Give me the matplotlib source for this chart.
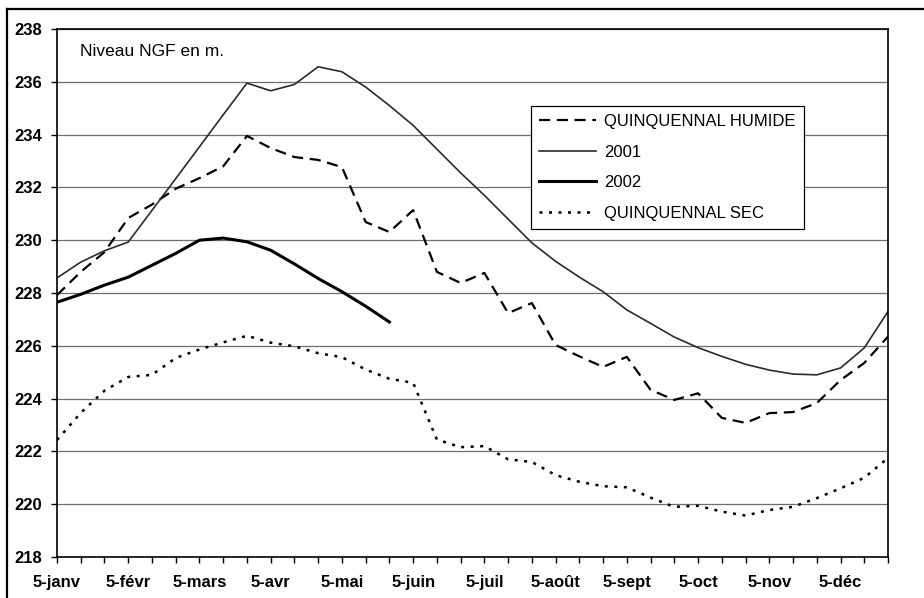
import matplotlib
matplotlib.use('Agg')
import matplotlib.pyplot as plt
from matplotlib.lines import Line2D
import numpy as np

# Dekads: 5, 15, 25 of every month (36 points)
month_labels = ['5-janv', '5-févr', '5-mars', '5-avr', '5-mai', '5-juin',
                '5-juil', '5-août', '5-sept', '5-oct', '5-nov', '5-déc']

humide = [227.92, 228.8, 229.55, 230.84, 231.35, 231.95, 232.35, 232.8, 233.95,
          233.49, 233.15, 233.04, 232.77, 230.69, 230.31, 231.14, 228.8, 228.38,
          228.76, 227.24, 227.62, 226.03, 225.6, 225.2, 225.58, 224.33, 223.95,
          224.2, 223.27, 223.08, 223.45, 223.49, 223.83, 224.7, 225.35, 226.35]

s2001 = [228.57, 229.17, 229.6, 229.93, 231.13, 232.33, 233.54, 234.75, 235.95,
         235.66, 235.9, 236.57, 236.38, 235.8, 235.1, 234.35, 233.45, 232.55,
         231.7, 230.8, 229.9, 229.2, 228.6, 228.05, 227.36, 226.85, 226.33,
         225.93, 225.6, 225.3, 225.08, 224.93, 224.9, 225.16, 225.92, 227.3]

s2002 = [227.65, 227.95, 228.3, 228.6, 229.05, 229.5, 230.0, 230.08, 229.94,
         229.62, 229.1, 228.55, 228.05, 227.5, 226.9]

sec = [222.43, 223.46, 224.3, 224.82, 224.9, 225.54, 225.86, 226.13, 226.38,
       226.12, 225.98, 225.72, 225.57, 225.1, 224.75, 224.6, 222.45, 222.16,
       222.2, 221.7, 221.6, 221.1, 220.85, 220.68, 220.64, 220.25, 219.9,
       219.94, 219.72, 219.57, 219.78, 219.9, 220.23, 220.6, 221.0, 221.75]

y_ticks = list(range(218, 239, 2))

W, H = 924, 598
fig = plt.figure(figsize=(W / 100, H / 100), dpi=100)
fig.patch.set_facecolor('white')

L, R, T, B = 57, 888, 29, 557
ax = fig.add_axes([L / W, 1 - B / H, (R - L) / W, (B - T) / H])

x = np.arange(len(humide))
ax.plot(x, humide, color='black', lw=1.6, dashes=(5, 3), label='QUINQUENNAL HUMIDE')
ax.plot(x, s2001, color='#2a2a2a', lw=1.2, label='2001')
ax.plot(x[:len(s2002)], s2002, color='black', lw=2.2, label='2002')
ax.plot(x, sec, color='black', lw=1.8, dashes=(1.2, 2.6), label='QUINQUENNAL SEC')

ax.set_xlim(0, len(humide) - 1)
ax.set_ylim(218, 238)
ax.set_yticks(y_ticks)
ax.set_yticklabels([str(v) for v in y_ticks])
ax.set_xticks(np.arange(0, len(humide), 3))
ax.set_xticklabels(month_labels)
ax.set_xticks(x, minor=True)

fam = ['Liberation Sans', 'DejaVu Sans']
for lab in ax.get_yticklabels():
    lab.set_fontfamily(fam)
    lab.set_fontweight('bold')
    lab.set_fontsize(12)
for lab in ax.get_xticklabels():
    lab.set_fontfamily(fam)
    lab.set_fontweight('bold')
    lab.set_fontsize(12)

ax.tick_params(axis='y', which='both', direction='out', length=4, width=1, pad=7, colors='black')
ax.tick_params(axis='x', which='both', direction='out', length=4, width=1, pad=9, colors='black')

ax.yaxis.grid(True, color='#6e6e6e', lw=0.9)
ax.set_axisbelow(True)
for sp in ax.spines.values():
    sp.set_color('black')
    sp.set_linewidth(1.2)

fig.text(80 / W, 1 - 52 / H, 'Niveau NGF en m.', fontsize=12.5,
         family=fam, va='center', ha='left')

leg = ax.legend(loc='upper left', bbox_to_anchor=((531 - L) / (R - L), (B - 106) / (B - T)),
                frameon=True, fancybox=False, edgecolor='black', framealpha=1,
                borderpad=0.5, handlelength=3.4, handletextpad=0.5, labelspacing=0.93,
                borderaxespad=0, prop={'family': fam, 'size': 12})
leg.get_frame().set_linewidth(0.9)

# outer chart border (top and left)
fig.add_artist(Line2D([7 / W, 1], [1 - 9 / H, 1 - 9 / H], color='black', lw=1.6, transform=fig.transFigure))
fig.add_artist(Line2D([7 / W, 7 / W], [0, 1 - 9 / H], color='black', lw=1.6, transform=fig.transFigure))

fig.savefig('out.png', dpi=100, facecolor='white')
